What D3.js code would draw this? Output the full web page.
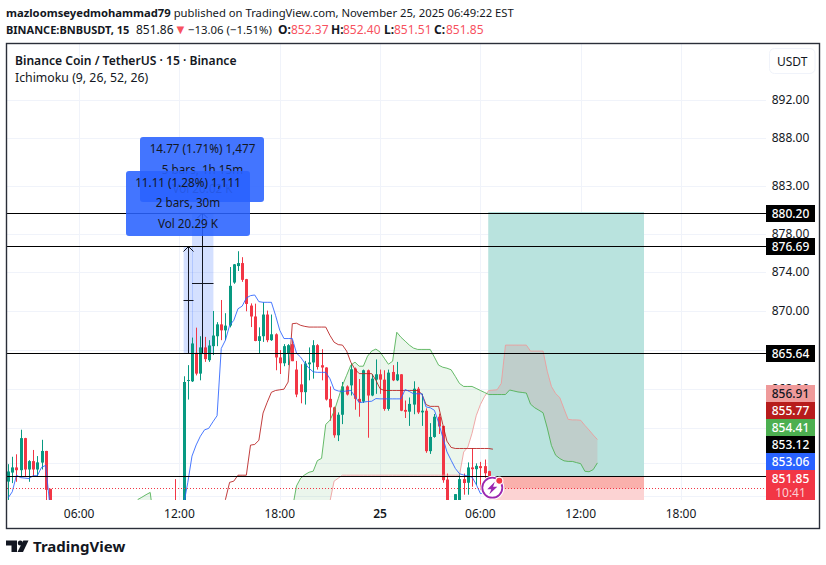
<!DOCTYPE html>
<html><head><meta charset="utf-8">
<script src="https://cdn.jsdelivr.net/npm/d3@7"></script>
<style>html,body{margin:0;padding:0;background:#fff}svg{display:block}text{font-family:"Noto Sans",sans-serif;fill:#131722}</style>
</head><body><svg id="c" width="826" height="565"></svg>
<script>
const priceTicks=[892,888,883,878,874,870,866,862,858,854.5,851];
const labelledTicks=[892,888,883,878,874,870,862];
const timeBars=[17,41,65,89,113,137,161];
const timeLabels=["06:00","12:00","18:00","25","06:00","12:00","18:00"];
const candleBars=[0,1,2,3,4,5,6,7,8,9,10,40,42,43,44,45,46,47,48,49,50,51,52,53,54,55,56,57,58,59,60,61,62,63,64,65,66,67,68,69,70,71,72,73,74,75,76,77,78,79,80,81,82,83,84,85,86,87,88,89,90,91,92,93,94,95,96,97,98,99,100,101,102,103,104,105,107,108,109,110,111,112,113,114,115];
const opens=[852.58,853.52,854.04,853.76,857.01,853.83,854.68,853.83,854.53,855.71,851.81,850,848,862.82,862.77,865.66,863.55,866.22,864.91,866.35,867.38,868.61,867.99,868.48,872.95,874.66,874.97,873.30,870.56,869.43,866.89,867.38,869.63,866.97,867.58,865.19,864.6,865.63,866.56,863.96,862.46,861.67,864.5,864.68,866.45,864.4,864.17,860.99,860.13,857.3,859.38,862.25,862.36,864.06,860.99,860.72,863.89,861.33,862.94,863.48,862.94,859.97,863.72,862.87,863.48,859.87,859.69,860.41,862.02,859.62,859.79,855.69,857.13,859.18,858.25,852.8,849.5,849.8,852.84,852.46,854.04,853.86,854.17,854.17,853.66];
const highs=[854.37,855.12,855.37,857.86,857.04,854.78,855.81,855.19,856.84,855.72,851.82,852.84,863.28,864.41,867.24,868.27,867.38,867.31,866.97,870.0,868.84,871.14,869.77,874.56,874.87,876.2,875.58,873.33,870.79,870.76,868.3,870.9,870.04,869.63,867.68,865.94,866.56,866.56,866.97,864.84,864.5,864.84,866.22,866.97,866.56,866.04,864.2,862.25,860.2,859.62,862.7,862.36,864.58,864.17,863.0,863.96,863.96,863.48,864.99,863.96,863.89,863.96,864.41,864.74,863.5,860.82,861.13,862.77,862.2,861.51,860.03,858.53,859.46,859.49,858.26,853.42,851.25,853.42,853.42,854.55,855.98,854.45,854.6,854.84,853.7];
const lows=[850.42,852.42,852.56,853.14,853.14,852.56,853.14,853.14,853.83,849.5,849,849,847,860.92,862.7,863.37,862.87,864.74,864.74,865.43,866.35,866.97,866.97,868.30,872.82,874.15,873.02,869.97,868.33,866.86,865.6,866.79,866.76,866.89,863.89,863.51,864.3,864.41,864.81,861.16,860.54,860.41,862.87,863.04,863.96,862.87,860.82,858.77,857.05,856.71,858.43,861.33,861.33,859.89,859.18,860.58,857.05,861.26,861.5,861.5,859.79,859.79,862.79,862.79,859.74,859.05,858.25,859.43,859.46,858.25,855.52,855.41,857.05,857.43,852.46,849,849,849.5,851.19,851.19,852.04,852.22,851.71,852.43,851.51];
const closes=[853.63,854.04,853.76,857.01,853.83,854.68,853.83,854.55,855.71,851.71,849.5,849.5,862.70,862.90,866.63,863.55,866.22,865.02,866.42,867.45,868.61,867.99,868.48,872.61,874.84,874.97,873.23,870.73,869.43,866.89,867.38,869.63,866.97,867.58,865.19,864.6,866.35,866.45,864.81,861.43,861.67,864.58,864.68,866.45,864.22,864.17,860.92,860.13,857.3,859.38,862.25,861.43,863.99,860.99,860.65,863.89,861.33,863.04,863.48,862.94,859.97,863.65,862.87,863.48,859.79,859.69,860.48,862.02,859.62,859.79,855.69,857.13,859.18,858.19,852.73,849.5,851.25,852.84,852.43,854.04,853.86,854.2,853.97,853.45,851.85];
const tenkanLeftBars=[0,1,2,3,4,5,6,7,8,9,10];
const tenkanLeft=[850.85,851.5,853.25,853.0,852.95,852.9,853.2,853.2,854.05,854.25,850.0];
const tenkanBars=d3.range(42,116);
const tenkan=[850.1,852.5,855.19,856.32,857.2,857.85,858.0,858.66,859.28,866.11,866.97,868.51,869.03,870.23,870.5,871.35,871.59,871.66,870.97,870.9,870.9,870.9,869.53,867.99,867.14,867.14,867.14,865.63,865.22,864.6,864.09,863.73,863.68,863.68,863.68,863.04,861.94,861.79,861.74,861.79,861.84,861.23,860.61,860.66,860.72,860.75,861.02,860.99,860.99,860.99,860.99,860.99,860.99,861.94,861.74,861.51,861.51,861.51,860.17,860.09,859.83,858.6,857.08,855.62,854.76,853.94,853.4,853.27,853.17,853.06,852.28,851.32,851.3,851.25];
const kijunBars=d3.range(51,117);
const kijun=[849.9,850.67,852.5,852.63,853.25,853.25,853.25,856.3,856.37,856.79,859.55,860.65,861.66,861.84,861.91,861.97,862.7,868.68,868.73,868.51,868.4,868.33,868.33,868.33,868.33,868.33,867.47,866.76,866.51,866.46,865.84,864.71,863.99,863.55,863.55,863.55,863.55,862.87,862.02,861.84,861.84,861.84,861.84,861.84,861.84,861.84,861.84,861.84,861.48,860.41,860.23,860.23,860.23,858.4,856.7,856.07,855.96,855.96,855.96,855.96,855.96,855.96,855.96,855.96,855.96,855.89];
const spanLeftBars=[31,32,33,34,35];
const spanLeft=[850.67,850.92,851.19,851.43,848];
const spanFloor=848;
const spanBars=d3.range(68,142);
const spanA=[849.66,852.12,852.94,853.3,853.55,853.66,854.73,854.96,858.4,858.82,859.72,861.02,862.36,863.38,864.41,864.71,864.3,864.3,865.32,865.84,866.05,865.74,865.12,864.5,864.81,867.79,867.27,866.87,866.46,866.15,866.01,866.01,866.01,866.01,865.22,864.41,864.2,864.1,863.94,863.27,862.55,862.25,862.25,862.25,862.05,861.84,861.64,861.43,861.43,861.43,861.43,861.43,861.89,861.79,861.69,861.64,861.58,860.45,860.09,859.84,859.58,858.04,856.26,855.28,854.94,854.71,854.65,854.65,854.53,854.42,853.65,853.6,853.82,854.5];
const spanB=[848,848,848,848,848,848,848,848,848,850.47,852.63,852.94,853.25,853.25,853.25,853.25,853.25,853.25,853.25,853.25,853.25,853.25,853.25,853.25,853.25,853.25,853.25,853.25,853.25,853.25,853.25,853.25,853.25,853.25,853.25,853.25,853.25,853.25,853.25,853.25,853.25,855.6,856.1,857.5,859.28,860.41,861.23,861.84,861.88,861.91,862.56,866.46,866.46,866.46,866.46,866.46,866.46,865.84,865.84,865.84,865.84,863.79,862.25,861.53,861.12,859.99,858.91,858.86,858.86,858.82,858.3,857.84,857.33,856.87];
const cloudSwitchBar=115;
const hLevels=[880.20,876.69,865.64,853.12];
const lastPrice=851.85;
const positionBars=[115,152];
const positionLevels=[880.20,853.12,851.85];
const measureOne={bars:[42,44],top:876.69,bottom:865.64};
const measureTwo={bars:[44,49],top:880.20,bottom:865.64};
const indicatorTags=[["856.91","#ef9a9a","#131722"],["855.77","#b71c1c","#fff"],["854.41","#4caf50","#fff"],["853.12","#000","#fff"],["853.06","#2962ff","#fff"]];

const svg=d3.select("#c");
const W=766,B=500,T=44,L=7;
const x=d3.scaleLinear().domain([0,161]).range([8.1,681]);
const y=d3.scaleLinear().domain([892,880.2,876.69,865.64,853.12,851.85,840]).range([100,213,246.5,353,476.5,488.5,600]);
const defs=svg.append("defs");
defs.append("clipPath").attr("id","plot").append("rect").attr("x",L).attr("y",T).attr("width",W-L).attr("height",B-T);

// grid
const grid=svg.append("g").attr("stroke","#f0f3fa").attr("stroke-width",1);
priceTicks.forEach(p=>grid.append("line").attr("x1",L).attr("x2",W).attr("y1",Math.round(y(p))+.5).attr("y2",Math.round(y(p))+.5));
timeBars.forEach(b=>grid.append("line").attr("x1",Math.round(x(b))+.5).attr("x2",Math.round(x(b))+.5).attr("y1",T).attr("y2",B));

const plot=svg.append("g").attr("clip-path","url(#plot)");
// position tool
const px0=x(positionBars[0])-.5;
plot.append("rect").attr("x",px0).attr("width",644-px0).attr("y",y(positionLevels[0])-1).attr("height",y(positionLevels[1])-y(positionLevels[0])+1).attr("fill","#b9e3de");
plot.append("rect").attr("x",px0).attr("width",644-px0).attr("y",y(positionLevels[1])).attr("height",40).attr("fill","#fcd3d3");
plot.append("rect").attr("x",px0).attr("width",644-px0).attr("y",y(positionLevels[1])).attr("height",y(positionLevels[2])-y(positionLevels[1])).attr("fill","#fab0ac");

// cloud
const area=d3.area().x(d=>x(d[0])).y0(d=>y(d[2])).y1(d=>y(d[1]));
const cloud=spanBars.map((b,i)=>[b,spanA[i],spanB[i]]);
plot.append("path").attr("d",area(cloud.filter(d=>d[0]<=cloudSwitchBar))).attr("fill","rgba(76,175,80,.11)");
plot.append("path").attr("d",area(cloud.filter(d=>d[0]>=cloudSwitchBar))).attr("fill","rgba(242,54,69,.12)");
plot.append("path").attr("d",area(spanLeftBars.map((b,i)=>[b,spanLeft[i],spanFloor]))).attr("fill","rgba(76,175,80,.11)");

// measure tools
[measureOne,measureTwo].forEach(m=>{
  const a=x(m.bars[0]),b=x(m.bars[1])+(m===measureOne?1:.5);
  plot.append("rect").attr("x",a).attr("width",b-a).attr("y",y(m.top)).attr("height",y(m.bottom)-y(m.top)).attr("fill","rgba(41,98,255,.2)");
});

// candles
const green="#089981",red="#f23645";
const bars=candleBars.map((b,i)=>({b,o:opens[i],h:highs[i],l:lows[i],c:closes[i]}));
const cg=plot.append("g");
cg.selectAll(".w").data(bars).join("line").attr("x1",d=>Math.round(x(d.b))+.5).attr("x2",d=>Math.round(x(d.b))+.5)
  .attr("y1",d=>y(d.h)).attr("y2",d=>y(d.l)).attr("stroke",d=>d.c>=d.o?green:red);
cg.selectAll(".b").data(bars).join("rect").attr("x",d=>Math.round(x(d.b))-1).attr("width",3)
  .attr("y",d=>y(Math.max(d.o,d.c))).attr("height",d=>Math.max(1,Math.abs(y(d.o)-y(d.c)))).attr("fill",d=>d.c>=d.o?green:red);

// ichimoku
const line=d3.line().x(d=>x(d[0])).y(d=>y(d[1]));
const zip=(a,b)=>a.map((v,i)=>[v,b[i]]);
const L1=(d,c)=>plot.append("path").attr("d",line(d)).attr("fill","none").attr("stroke",c).attr("stroke-width",1).attr("stroke-opacity",.85);
L1(zip(spanBars,spanB),"#ef9a9a");
L1(zip(spanBars,spanA),"#4caf50");
L1(zip(spanLeftBars,spanLeft),"#4caf50");
L1(zip(kijunBars,kijun),"#b71c1c");
L1(zip(tenkanBars,tenkan),"#2962ff");
L1(zip(tenkanLeftBars,tenkanLeft),"#2962ff");

// measure lines over candles
const mg=plot.append("g").attr("stroke","#131722").attr("fill","none");
const m1x=Math.round(x(measureOne.bars[0])+4.5)+.5, m2x=202.5;
mg.append("line").attr("x1",m1x).attr("x2",m1x).attr("y1",y(measureOne.top)).attr("y2",y(measureOne.bottom));
mg.append("path").attr("d",`M${m1x-5},${y(measureOne.top)+5}L${m1x},${y(measureOne.top)}L${m1x+5},${y(measureOne.top)+5}`);
mg.append("line").attr("x1",183.5).attr("x2",193.5).attr("y1",300.5).attr("y2",300.5);
mg.append("line").attr("x1",m2x).attr("x2",m2x).attr("y1",y(measureTwo.top)).attr("y2",y(measureTwo.bottom));
mg.append("path").attr("d",`M${m2x-5},${y(measureTwo.top)+5}L${m2x},${y(measureTwo.top)}L${m2x+5},${y(measureTwo.top)+5}`);
mg.append("line").attr("x1",192).attr("x2",213.5).attr("y1",283.5).attr("y2",283.5);

// horizontal levels
hLevels.forEach(p=>{const yy=Math.floor(y(p))+.5;
  svg.append("line").attr("x1",L).attr("x2",W).attr("y1",yy).attr("y2",yy).attr("stroke","#000").attr("stroke-width",1);});
svg.append("line").attr("x1",L).attr("x2",W).attr("y1",488.5).attr("y2",488.5).attr("stroke",red).attr("stroke-dasharray","1 2");

// tooltips
function tip(xx,yy,lines,cx,ys){
  const g=svg.append("g");
  g.append("rect").attr("x",xx).attr("y",yy).attr("width",124).attr("height",65).attr("rx",3).attr("fill","rgba(41,98,255,.88)");
  lines.forEach((t,i)=>g.append("text").attr("x",cx).attr("y",ys[i]).attr("text-anchor","middle").attr("font-size",11.7).text(t));
}
tip(140,137,["14.77 (1.71%) 1,477","5 bars, 1h 15m","Vol 20.02 K"],202.5,[152.5,173.5,193]);
tip(126,171,["11.11 (1.28%) 1,111","2 bars, 30m","Vol 20.29 K"],188,[186.5,206.5,227.5]);

// price axis labels
labelledTicks.forEach(p=>svg.append("text").attr("x",790.5).attr("y",y(p)+4).attr("text-anchor","middle").attr("font-size",12).text(p.toFixed(2)));
// time axis labels
timeBars.forEach((b,i)=>svg.append("text").attr("x",x(b)).attr("y",517.5).attr("text-anchor","middle").attr("font-size",12).attr("font-weight",timeLabels[i]==="25"?600:400).text(timeLabels[i]));

// tags
function tag(yTop,h,bg,fg,txt){
  svg.append("rect").attr("x",766).attr("y",yTop).attr("width",49).attr("height",h).attr("fill",bg);
  svg.append("text").attr("x",790.5).attr("y",yTop+12.8).attr("text-anchor","middle").attr("font-size",12).style("fill",fg).attr("font-weight",500).text(txt);
}
hLevels.slice(0,3).forEach(p=>tag(Math.floor(y(p))-8,17,"#000","#fff",p.toFixed(2)));
indicatorTags.forEach((t,i)=>tag(385+i*17,17,t[1],t[2],t[0]));
tag(470,30,"#f23645","#fff",lastPrice.toFixed(2));
svg.append("text").attr("x",790.5).attr("y",497).attr("text-anchor","middle").attr("font-size",12).style("fill","#fbd0d4").text("10:41");

// USDT button
svg.append("rect").attr("x",769.5).attr("y",48.5).attr("width",45.5).attr("height",25).attr("rx",5).attr("fill","#fff").attr("stroke","#f0f3fa");
svg.append("text").attr("x",792.2).attr("y",65.5).attr("text-anchor","middle").attr("font-size",12).text("USDT");

// frame
svg.append("rect").attr("x",6.5).attr("y",43.5).attr("width",813).attr("height",485).attr("fill","none").attr("stroke","#2a2e39").attr("stroke-width",1.4);

// header
const h1=svg.append("text").attr("x",6).attr("y",17).attr("font-size",11.25);
h1.append("tspan").attr("font-weight",700).text("mazloomseyedmohammad79");
h1.append("tspan").text(" published on TradingView.com, November 25, 2025 06:49:22 EST");
const h2=svg.append("text").attr("x",6).attr("y",34).attr("font-size",12);
h2.append("tspan").attr("font-weight",700).attr("font-size",11).text("BINANCE:BNBUSDT, 15");
h2.append("tspan").attr("x",136).text("851.86");
h2.append("tspan").attr("x",174).attr("font-size",13).style("fill","#f7525f").text("▼");
h2.append("tspan").attr("x",188).attr("font-size",11.4).text("−13.06 (−1.51%)");
[["O:","852.37",278,291],["H:","852.40",331,343],["L:","851.51",384,394],["C:","851.85",434,446]].forEach(p=>{
  h2.append("tspan").attr("x",p[2]).attr("font-weight",700).text(p[0]);
  h2.append("tspan").attr("x",p[3]).style("fill","#f7525f").text(p[1]);
});
svg.append("text").attr("x",15).attr("y",65).attr("font-size",12.1).attr("font-weight",600).text("Binance Coin / TetherUS · 15 · Binance");
svg.append("text").attr("x",15).attr("y",82).attr("font-size",12.3).text("Ichimoku (9, 26, 52, 26)");

// replay icon
const ic=svg.append("g").attr("transform","translate(492.3,487.7)");
ic.append("circle").attr("r",12).attr("fill","#fff");
ic.append("circle").attr("r",10).attr("fill","#fff").attr("stroke","#9c27b0").attr("stroke-width",1.8);
ic.append("path").attr("d","M2.5,-6L-5,1.5L-1,1.5L-3,6.5L5,-1L0.8,-1Z").attr("fill","#9c27b0");
ic.append("circle").attr("cx",7).attr("cy",-7).attr("r",3.6).attr("fill","#f23645").attr("stroke","#fff").attr("stroke-width",1.2);

// logo
const lg=svg.append("g").attr("fill","#131722");
lg.append("path").attr("d","M6,540.5H17V552H11.5V545.5H6Z");
lg.append("circle").attr("cx",20.3).attr("cy",543).attr("r",2.5);
lg.append("path").attr("d","M23.3,540.5H28.5L23,552H17.5Z");
svg.append("text").attr("x",33).attr("y",552).attr("font-size",15).attr("font-weight",700).text("TradingView");
</script></body></html>
